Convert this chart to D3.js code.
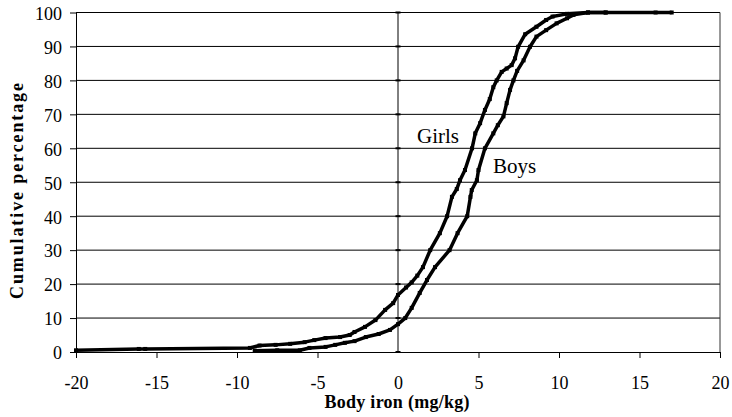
<!DOCTYPE html>
<html>
<head>
<meta charset="utf-8">
<script src="https://cdn.jsdelivr.net/npm/d3@7"></script>
<style>
  html, body { margin: 0; padding: 0; background: #fff; }
  svg { display: block; }
  text { font-family: "Liberation Serif", "Times New Roman", serif; fill: #000; }
</style>
</head>
<body>
<svg id="chart" width="732" height="417"></svg>
<script>
// ---- Data ----
const xTicks = [-20, -15, -10, -5, 0, 5, 10, 15, 20];
const yTicks = [0, 10, 20, 30, 40, 50, 60, 70, 80, 90, 100];

// Girls: body iron (mg/kg) vs cumulative percentage
const girlsIron = [-20, -16.1, -15.7, -9.2, -8.6, -7.6, -6.7, -5.8, -5.2, -4.5, -3.6, -3.0, -2.7, -2.05, -1.4, -0.8, -0.3, 0, 0.5, 0.85, 1.2, 1.55, 2.0, 2.6, 3.05, 3.35, 3.65, 3.85, 4.16, 4.6, 4.8, 5.1, 5.4, 5.7, 5.92, 6.13, 6.44, 6.75, 7.06, 7.27, 7.46, 7.9, 8.6, 9.2, 9.6, 10.5, 11.8, 12.9];
const girlsPct  = [0.5, 0.9, 0.9, 1.2, 1.9, 2.1, 2.4, 2.9, 3.5, 4.1, 4.4, 5.0, 5.9, 7.4, 9.4, 12.4, 14.4, 16.8, 19.0, 20.5, 22.5, 25, 30, 35, 40, 45.7, 48, 50.6, 53.6, 60, 64.4, 67.4, 71.3, 74.5, 78, 80, 82.5, 83.5, 84.5, 86.5, 89.9, 93.6, 95.8, 97.8, 98.8, 99.6, 100, 100];

// Boys
const boysIron = [-8.9, -7.5, -6.1, -5.5, -4.5, -3.9, -3.3, -2.7, -2.0, -1.2, -0.5, 0, 0.45, 0.85, 1.35, 1.8, 2.3, 3.2, 3.7, 4.3, 4.5, 4.58, 4.9, 5.0, 5.4, 5.92, 6.2, 6.55, 6.75, 6.96, 7.17, 7.4, 7.8, 8.2, 8.6, 9.2, 9.85, 10.5, 10.9, 11.8, 12.9, 16, 17];
const boysPct  = [0.4, 0.5, 0.5, 1.2, 1.5, 2.1, 2.7, 3.2, 4.4, 5.3, 6.5, 8.2, 10, 13, 17.4, 21.2, 25, 30, 35, 40, 45.7, 47.7, 50.6, 53.6, 60, 64.4, 66.8, 69.4, 73.3, 77.2, 80, 82.8, 85.9, 89.9, 92.9, 94.8, 96.8, 98.3, 99.3, 100, 100, 100, 100];

const seriesNames = ["Girls", "Boys"];
const xTitle = "Body iron (mg/kg)";
const yTitle = "Cumulative percentage";

// ---- Chart ----
const svg = d3.select("#chart");
const mLeft = 76, mRight = 720, mTop = 12.5, mBottom = 352;

const x = d3.scaleLinear().domain([-20, 20]).range([mLeft, mRight]);
const y = d3.scaleLinear().domain([0, 100]).range([mBottom, mTop]);

// horizontal gridlines
svg.append("g")
  .selectAll("line")
  .data(yTicks.filter(d => d > 0))
  .join("line")
  .attr("x1", mLeft).attr("x2", mRight)
  .attr("y1", d => y(d)).attr("y2", d => y(d))
  .attr("stroke", "#000").attr("stroke-width", 1);

// right border
svg.append("line")
  .attr("x1", mRight).attr("x2", mRight)
  .attr("y1", mTop).attr("y2", mBottom)
  .attr("stroke", "#333").attr("stroke-width", 1);

// left (label) axis
const yAxis = d3.axisLeft(y).tickValues(yTicks).tickFormat(d => String(d))
  .tickSize(6).tickPadding(8).tickSizeOuter(0);
const gy = svg.append("g").attr("transform", `translate(${mLeft},0)`).call(yAxis);
gy.selectAll("text").style("font-size", "18px").attr("dy", "0.38em");

// bottom axis
const xAxis = d3.axisBottom(x).tickValues(xTicks).tickFormat(d => String(d))
  .tickSize(6).tickSizeOuter(0);
const gx = svg.append("g").attr("transform", `translate(0,${mBottom})`).call(xAxis);
gx.selectAll("text").style("font-size", "18px").attr("y", 37).attr("dy", 0);
gx.selectAll(".tick").filter(d => d === 0).select("line").remove();
svg.selectAll(".domain").attr("stroke", "#000");

// value axis crossing at x = 0
svg.append("line")
  .attr("x1", x(0)).attr("x2", x(0))
  .attr("y1", mTop).attr("y2", mBottom)
  .attr("stroke", "#000").attr("stroke-width", 1);
svg.append("g")
  .selectAll("line")
  .data(yTicks)
  .join("line")
  .attr("x1", x(0) - 2.5).attr("x2", x(0) + 2.5)
  .attr("y1", d => y(d)).attr("y2", d => y(d))
  .attr("stroke", "#000").attr("stroke-width", 2);

// series
const series = [
  { name: seriesNames[0], xs: girlsIron, ys: girlsPct },
  { name: seriesNames[1], xs: boysIron, ys: boysPct }
];
const line = d3.line().x(d => x(d[0])).y(d => y(d[1]));
series.forEach(s => {
  const pts = s.xs.map((v, i) => [v, s.ys[i]]);
  svg.append("path")
    .datum(pts)
    .attr("d", line)
    .attr("fill", "none")
    .attr("stroke", "#000")
    .attr("stroke-width", 3.5)
    .attr("stroke-linejoin", "round");
  svg.append("g")
    .selectAll("rect")
    .data(pts)
    .join("rect")
    .attr("x", d => x(d[0]) - 2)
    .attr("y", d => y(d[1]) - 2)
    .attr("width", 4).attr("height", 4)
    .attr("fill", "#000");
});

// series labels
svg.append("text").attr("x", 417).attr("y", 143).style("font-size", "21px").text(seriesNames[0]);
svg.append("text").attr("x", 493).attr("y", 173).style("font-size", "21px").text(seriesNames[1]);

// axis titles
svg.append("text")
  .attr("x", (mLeft + mRight) / 2 - 1).attr("y", 408)
  .attr("text-anchor", "middle")
  .style("font-size", "18px").style("font-weight", "bold")
  .attr("textLength", 145).attr("lengthAdjust", "spacing")
  .text(xTitle);
svg.append("text")
  .attr("transform", `translate(23,191) rotate(-90)`)
  .attr("text-anchor", "middle")
  .style("font-size", "18px").style("font-weight", "bold")
  .attr("textLength", 216).attr("lengthAdjust", "spacing")
  .text(yTitle);
</script>
</body>
</html>
